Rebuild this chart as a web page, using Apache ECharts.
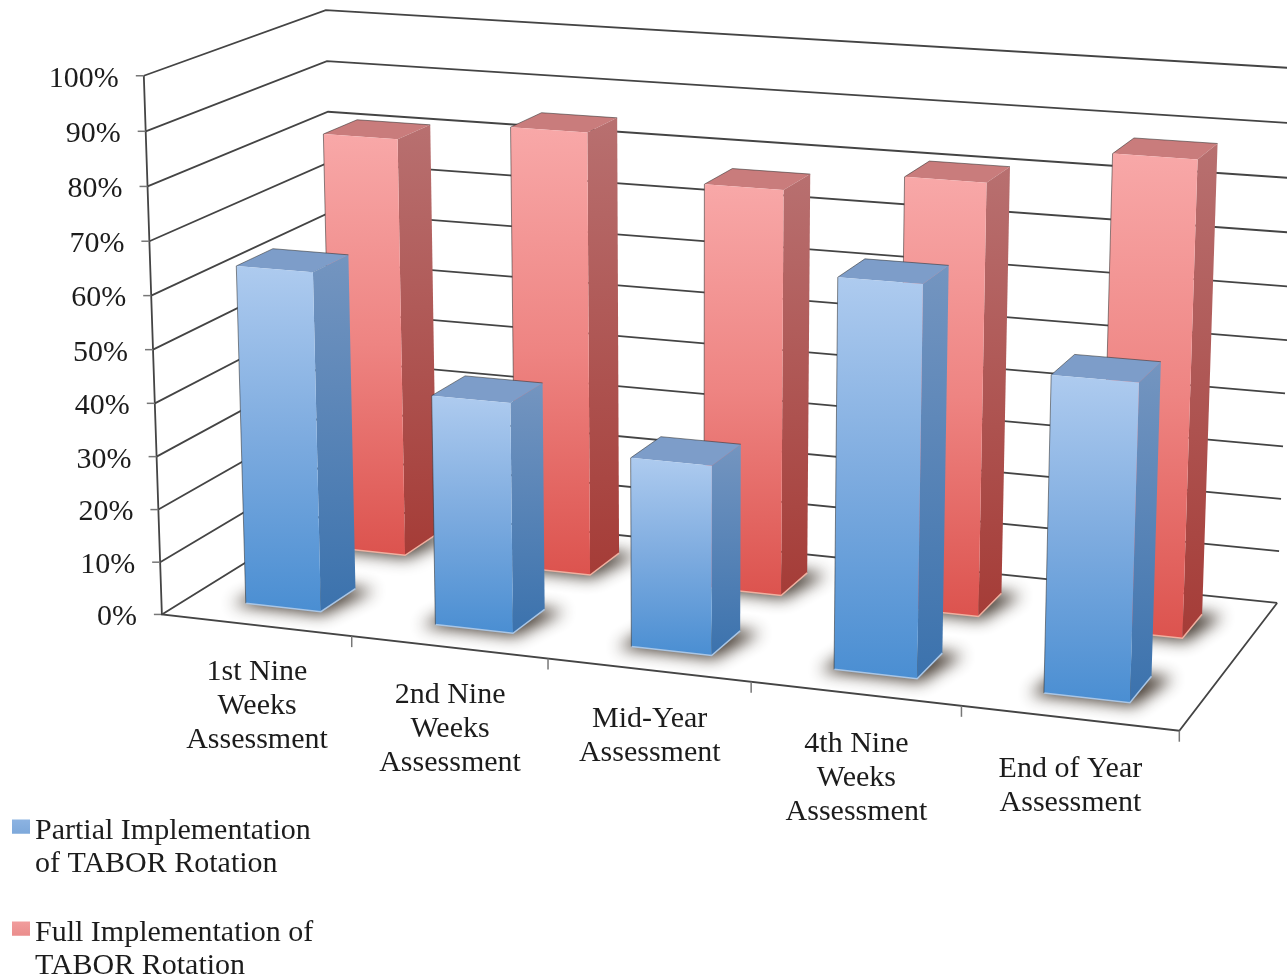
<!DOCTYPE html>
<html><head><meta charset="utf-8">
<style>html,body{margin:0;padding:0;background:#fff}#c{width:1287px;height:976px}</style>
<script src="https://cdn.jsdelivr.net/npm/echarts@6/dist/echarts.min.js"></script>
</head><body><div id="c"></div>
<script>
const categories = ['1st Nine\nWeeks\nAssessment','2nd Nine\nWeeks\nAssessment','Mid-Year\nAssessment','4th Nine\nWeeks\nAssessment','End of Year\nAssessment'];
const partialValues = [63.9,43,35,70.7,56.7];
const fullValues = [81.2,85,76.9,80.9,87.7];
const valueTicks = [0,10,20,30,40,50,60,70,80,90,100];
const seriesNames = ['Partial Implementation\nof TABOR Rotation','Full Implementation of\nTABOR Rotation'];

// camera: fitted from the box's corners (u along categories, v up, w into depth)
const anchors = [
 [0,0,0,163,612],[0,0,0,163,612],[0,0,0,163,612],[1,0,0,1180,733],[1,0,0,1180,733],[1,0,1,1277,600],[1,0,1,1277,600],[0,0,1,332,515],
 [0,1,0,143,77],[0,1,0,143,77],[0,1,0,143,77],[0,1,1,329,8],[0,1,1,329,8],[1,1,1,1296,69],
 [.2,0,0,353,635],[.2,0,0,353,635],[.4,0,0,548,658.5],[.6,0,0,750,682.5],[.8,0,0,962,707.5],[0,.5,0,152,348],[0,.9,0,144,132],[0,.8,0,146,187]
];
function fitCamera(pts){
  const n=11,A=Array.from({length:n},()=>new Array(n+1).fill(0));
  const add=(r,b)=>{for(let i=0;i<n;i++){for(let j=0;j<n;j++)A[i][j]+=r[i]*r[j];A[i][n]+=r[i]*b;}};
  pts.forEach(([u,v,w,x,y])=>{
    add([u,v,w,1,0,0,0,0,-x*u,-x*v,-x*w],x);
    add([0,0,0,0,u,v,w,1,-y*u,-y*v,-y*w],y);
  });
  for(let c=0;c<n;c++){
    let p=c;for(let r=c+1;r<n;r++)if(Math.abs(A[r][c])>Math.abs(A[p][c]))p=r;
    [A[c],A[p]]=[A[p],A[c]];
    for(let r=0;r<n;r++){if(r===c)continue;const f=A[r][c]/A[c][c];for(let k=c;k<=n;k++)A[r][k]-=f*A[c][k];}
  }
  return A.map((row,i)=>row[n]/row[i]);
}
const m=fitCamera(anchors);
function P(u,v,w){
  const d=m[8]*u+m[9]*v+m[10]*w+1;
  return [(m[0]*u+m[1]*v+m[2]*w+m[3])/d,(m[4]*u+m[5]*v+m[6]*w+m[7])/d];
}
const grad=(a,b,c)=>({type:'linear',x:0,y:0,x2:0,y2:1,colorStops:c?[{offset:0,color:a},{offset:.5,color:b},{offset:1,color:c}]:[{offset:0,color:a},{offset:1,color:b}]});
const looks={
 blue:{front:grad('#aecbef','#7dabdf','#4a8ed2'),side:grad('#7495c0','#3b72ad'),top:'#7d9dc9',edge:'#a9c6e6',w0:.15,w1:.35},
 red:{front:grad('#f8a8a8','#ee8482','#dc534e'),side:grad('#b87070','#a53c37'),top:'#c97c7c',edge:'#f0b0a0',w0:.65,w1:.85}
};
const FONT='30px "Liberation Serif", serif', TXT='#1c1c1c', LINE='#444';
const FAR=3000;

function norm(api,params,val,idx){
  const cs=params.coordSys,pt=api.coord([idx,val]);
  return [(pt[0]-cs.x)/cs.width,1-(pt[1]-cs.y)/cs.height];
}
function bar(look){
  return function(params,api){
    const [uc,v]=norm(api,params,api.value(1),api.value(0));
    const hw=api.size([1,0])[0]/params.coordSys.width*.4/2;
    const u0=uc-hw,u1=uc+hw,w0=look.w0,w1=look.w1;
    const poly=(pts,style)=>({type:'polygon',shape:{points:pts},style});
    const away=p=>[p[0]-FAR,p[1]];
    return {type:'group',children:[
      poly([P(u0-.011,0,w0-.02),P(u1+.006,0,w0-.02),P(u1+.02,0,w1+.005),P(u0,0,w1+.01)].map(away),{fill:'#000',shadowBlur:16,shadowOffsetX:FAR,shadowColor:'rgba(55,45,35,.92)'}),
      poly([P(u0,v,w1),P(u1,v,w1),P(u1,v,w0),P(u0,v,w0)],{fill:look.top}),
      poly([P(u1,v,w0),P(u1,v,w1),P(u1,0,w1),P(u1,0,w0)],{fill:look.side}),
      poly([P(u0,v,w0),P(u1,v,w0),P(u1,0,w0),P(u0,0,w0)],{fill:look.front}),
      {type:'polyline',shape:{points:[P(u0,0,w0),P(u1,0,w0),P(u1,0,w1)]},style:{fill:null,stroke:look.edge,lineWidth:1.5}},
      {type:'polyline',shape:{points:[P(u0,0,w0),P(u0,v,w0),P(u0,v,w1),P(u1,v,w1)]},style:{fill:null,stroke:'rgba(45,45,45,.55)',lineWidth:1}}
    ]};
  };
}
function wall(params,api){
  const [,v]=norm(api,params,api.value(1),0);
  const a=P(0,v,0),kids=[
    {type:'polyline',shape:{points:[a,P(0,v,1),P(1,v,1)]},style:{fill:null,stroke:LINE,lineWidth:1.8}},
    {type:'line',shape:{x1:a[0]-8,y1:a[1],x2:a[0],y2:a[1]},style:{stroke:'#777',lineWidth:1.5}},
    {type:'text',style:{text:api.value(1)+'%',x:a[0]-25,y:a[1]+3,align:'right',verticalAlign:'middle',font:FONT,fill:TXT}}
  ];
  if(v===0){
    kids.push({type:'polyline',shape:{points:[P(0,1,0),P(0,0,0),P(1,0,0),P(1,0,1)]},style:{fill:null,stroke:LINE,lineWidth:1.8}});
  }
  return {type:'group',children:kids};
}
function catLabel(params,api){
  const i=api.value(0),cs=params.coordSys,pt=api.coord([i,0]);
  const hw=api.size([1,0])[0]/cs.width/2,u=(pt[0]-cs.x)/cs.width;
  const c=P(u,0,0),t=P(u+hw,0,0);
  return {type:'group',children:[
    {type:'line',shape:{x1:t[0],y1:t[1],x2:t[0],y2:t[1]+11},style:{stroke:'#777',lineWidth:1.5}},
    {type:'text',style:{text:categories[i],x:c[0]+1,y:c[1]+29.5+u*5,align:'center',verticalAlign:'top',font:FONT,lineHeight:34,fill:TXT}}
  ]};
}
const idx=a=>a.map((d,i)=>[i,d]);
const chart=echarts.init(document.getElementById('c'),null,{renderer:'canvas'});
const marker='path://M0,0L0,0Z M0,3H19V18H0Z M0,66L0,66Z';
chart.setOption({
  animation:false,backgroundColor:'#fff',
  grid:{left:0,right:0,top:0,bottom:0},
  xAxis:{type:'category',data:categories,show:false},
  yAxis:{type:'value',min:0,max:100,interval:10,show:false},
  legend:{orient:'vertical',left:12,top:815,padding:0,height:190,itemGap:36,itemWidth:18,itemHeight:66,selectedMode:false,
    icon:marker,textStyle:{fontFamily:'Liberation Serif',fontSize:30,color:TXT,lineHeight:33},
    data:[{name:seriesNames[0],itemStyle:{color:grad('#8fb5e3','#4e86c3')}},{name:seriesNames[1],itemStyle:{color:grad('#f2a0a0','#d65a56')}}]},
  series:[
    {type:'custom',name:'grid',renderItem:wall,data:valueTicks.map(v=>[0,v]),silent:true,z:1},
    {type:'custom',name:'labels',renderItem:catLabel,data:idx(categories.map(()=>0)),silent:true,z:2},
    {type:'custom',name:seriesNames[1],renderItem:bar(looks.red),data:idx(fullValues),itemStyle:{color:'#dc534e'},encode:{x:0,y:1},z:3},
    {type:'custom',name:seriesNames[0],renderItem:bar(looks.blue),data:idx(partialValues),itemStyle:{color:'#4a8ed2'},encode:{x:0,y:1},z:4}
  ]
});
</script></body></html>
